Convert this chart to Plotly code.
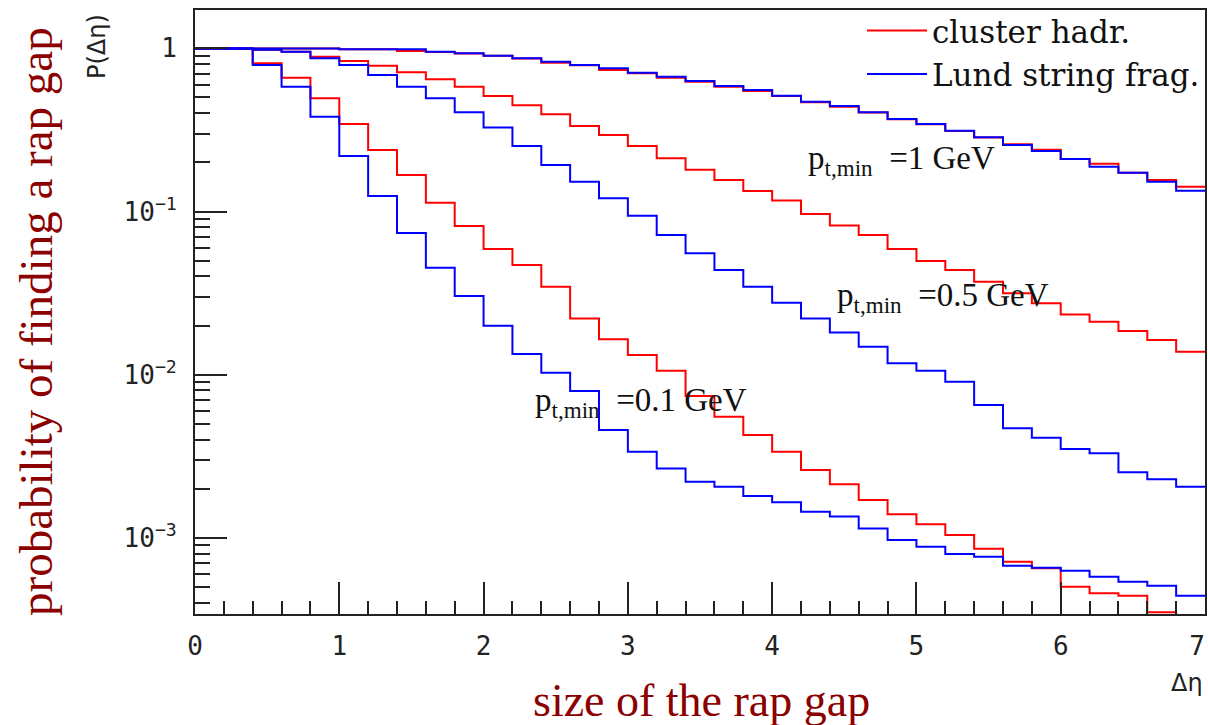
import plotly.graph_objects as go

# bin edges of the rapidity-gap histogram (35 bins of 0.2)
bin_edges = [0.0, 0.2, 0.4, 0.6, 0.8, 1.0, 1.2, 1.4, 1.6, 1.8, 2.0, 2.2, 2.4, 2.6, 2.8,
             3.0, 3.2, 3.4, 3.6, 3.8, 4.0, 4.2, 4.4, 4.6, 4.8, 5.0, 5.2, 5.4, 5.6, 5.8,
             6.0, 6.2, 6.4, 6.6, 6.8, 7.0]

cluster_pt1 = [1.0, 1.0, 1.0, 1.0, 1.0, 0.987, 0.987, 0.964, 0.952, 0.930, 0.900, 0.868,
               0.817, 0.789, 0.737, 0.704, 0.661, 0.625, 0.582, 0.548, 0.511, 0.467, 0.439,
               0.404, 0.368, 0.343, 0.312, 0.284, 0.258, 0.239, 0.210, 0.196, 0.173, 0.156, 0.142]
lund_pt1 = [1.0, 1.0, 1.0, 1.0, 1.0, 0.987, 0.987, 0.987, 0.954, 0.933, 0.902, 0.870,
            0.829, 0.791, 0.755, 0.710, 0.671, 0.631, 0.588, 0.556, 0.513, 0.471, 0.443,
            0.406, 0.369, 0.344, 0.313, 0.285, 0.256, 0.235, 0.210, 0.188, 0.173, 0.152, 0.134]

cluster_pt05 = [1.0, 1.0, 0.982, 0.954, 0.889, 0.837, 0.783, 0.714, 0.646, 0.582, 0.511, 0.448,
                0.394, 0.334, 0.294, 0.252, 0.212, 0.180, 0.156, 0.1335, 0.117, 0.0965, 0.0821,
                0.0718, 0.0589, 0.0497, 0.0438, 0.0371, 0.0315, 0.0274, 0.0234, 0.0211, 0.0185,
                0.0163, 0.0138]
lund_pt05 = [1.0, 1.0, 0.982, 0.954, 0.870, 0.791, 0.687, 0.582, 0.494, 0.406, 0.327, 0.252,
             0.193, 0.152, 0.1205, 0.0941, 0.0718, 0.0554, 0.0438, 0.0346, 0.0276, 0.0221,
             0.0181, 0.0148, 0.01173, 0.01057, 0.00905, 0.00651, 0.00469, 0.0041, 0.0035,
             0.00329, 0.00252, 0.00228, 0.00205]

cluster_pt01 = [1.0, 1.0, 0.810, 0.661, 0.494, 0.344, 0.238, 0.1674, 0.1132, 0.0815, 0.0589,
                0.047, 0.0346, 0.0221, 0.01646, 0.01318, 0.01057, 0.00739, 0.00552, 0.00426,
                0.00337, 0.0026, 0.00213, 0.0017, 0.00139, 0.00121, 0.00104, 0.000856,
                0.000713, 0.000649, 0.000501, 0.000456, 0.000441, 0.000349, 0.00033]
lund_pt01 = [1.0, 1.0, 0.791, 0.582, 0.381, 0.219, 0.1245, 0.0738, 0.0452, 0.0303, 0.0199,
             0.01337, 0.01027, 0.00793, 0.00457, 0.00337, 0.00266, 0.0022, 0.00205, 0.0018,
             0.00165, 0.00144, 0.00135, 0.00114, 0.000968, 0.000881, 0.000795, 0.000765,
             0.000674, 0.000655, 0.000628, 0.000577, 0.000537, 0.000508, 0.000441]

series_names = ["cluster hadr.", "Lund string frag."]
ytick_vals = [1, 0.1, 0.01, 0.001]
ytick_text = ["1", "10<sup>\u22121</sup>", "10<sup>\u22122</sup>", "10<sup>\u22123</sup>"]
xtick_vals = [0, 1, 2, 3, 4, 5, 6, 7]
xtick_text = ["0", "1", "2", "3", "4", "5", "6", "7\u00a0"]
yminor_vals = [m * 10.0 ** e for e in range(-4, 1) for m in range(2, 10)]

RED = "#ff0000"
BLUE = "#0000ff"
AXC = "#222222"
TITLE_C = "#8b0000"


def step(vals):
    return list(vals) + [vals[-1]]


fig = go.Figure()
reds = [cluster_pt1, cluster_pt05, cluster_pt01]
blues = [lund_pt1, lund_pt05, lund_pt01]
for i, v in enumerate(reds):
    fig.add_trace(go.Scatter(x=bin_edges, y=step(v), mode="lines", line_shape="hv",
                             line=dict(color=RED, width=2), name=series_names[0],
                             legendgroup="r", showlegend=(i == 0)))
for i, v in enumerate(blues):
    fig.add_trace(go.Scatter(x=bin_edges, y=step(v), mode="lines", line_shape="hv",
                             line=dict(color=BLUE, width=2), name=series_names[1],
                             legendgroup="b", showlegend=(i == 0)))

W, H = 1208, 725
L, R, T, B = 195, 3, 10, 111
pw, ph = W - L - R, H - T - B


def px(xp):
    return (xp - L) / pw


def py(yp):
    return (H - B - yp) / ph


tick_font = dict(family="DejaVu Sans Mono", size=26, color="#222")

fig.update_layout(
    width=W, height=H,
    margin=dict(l=L, r=R, t=T, b=B, pad=0, autoexpand=False),
    paper_bgcolor="white", plot_bgcolor="white",
    showlegend=True,
    legend=dict(x=1.0, xanchor="right", y=1.01, yanchor="top",
                bgcolor="rgba(0,0,0,0)", borderwidth=0,
                font=dict(family="DejaVu Serif", size=31, color="#111"),
                tracegroupgap=0, itemwidth=60),
    xaxis=dict(range=[0, 7], showline=True, mirror=True, linewidth=2, linecolor=AXC,
               showgrid=False, zeroline=False, automargin=False,
               tickmode="array", tickvals=xtick_vals, ticktext=xtick_text,
               ticks="inside", ticklen=32, tickwidth=2, tickcolor=AXC,
               ticklabelstandoff=8, ticklabeloverflow="allow",
               tickfont=tick_font,
               minor=dict(dtick=0.2, tick0=0, ticks="inside", ticklen=13, tickwidth=2,
                          tickcolor=AXC, showgrid=False)),
    yaxis=dict(type="log", range=[-3.4678, 0.2354], showline=True, mirror=True,
               linewidth=2, linecolor=AXC, showgrid=False, zeroline=False, automargin=False,
               tickmode="array", tickvals=ytick_vals, ticktext=ytick_text,
               ticks="inside", ticklen=32, tickwidth=2, tickcolor=AXC,
               ticklabelstandoff=11,
               tickfont=tick_font,
               minor=dict(tickmode="array", tickvals=yminor_vals, ticks="inside",
                          ticklen=15, tickwidth=2, tickcolor=AXC, showgrid=False)),
)

ann_font = dict(family="Liberation Serif", size=33, color="#111")
fig.add_annotation(xref="paper", yref="paper", x=px(806), y=py(160), xanchor="left",
                   yanchor="middle", text="p<sub>t,min</sub>\u00a0 =1 GeV", showarrow=False,
                   font=ann_font)
fig.add_annotation(xref="paper", yref="paper", x=px(835), y=py(297), xanchor="left",
                   yanchor="middle", text="p<sub>t,min</sub>\u00a0 =0.5 GeV", showarrow=False,
                   font=ann_font)
fig.add_annotation(xref="paper", yref="paper", x=px(533), y=py(402), xanchor="left",
                   yanchor="middle", text="p<sub>t,min</sub>\u00a0 =0.1 GeV", showarrow=False,
                   font=ann_font)

title_font = dict(family="Liberation Serif", size=47, color=TITLE_C)
fig.add_annotation(xref="paper", yref="paper", x=px(36), y=py(322), xanchor="center",
                   yanchor="middle", text="probability of finding a rap gap",
                   textangle=-90, showarrow=False, font=title_font)
fig.add_annotation(xref="paper", yref="paper", x=px(701), y=py(701), xanchor="center",
                   yanchor="middle", text="size of the rap gap", showarrow=False,
                   font=dict(family="Liberation Serif", size=46, color=TITLE_C))
fig.add_annotation(xref="paper", yref="paper", x=px(97), y=py(47), xanchor="center",
                   yanchor="middle", text="P(\u0394\u03b7)", textangle=-90, showarrow=False,
                   font=dict(family="DejaVu Sans", size=24, color="#222"))
fig.add_annotation(xref="paper", yref="paper", x=px(1187), y=py(683), xanchor="center",
                   yanchor="middle", text="\u0394\u03b7", showarrow=False,
                   font=dict(family="DejaVu Sans", size=24, color="#222"))

fig.write_html("out.html")
